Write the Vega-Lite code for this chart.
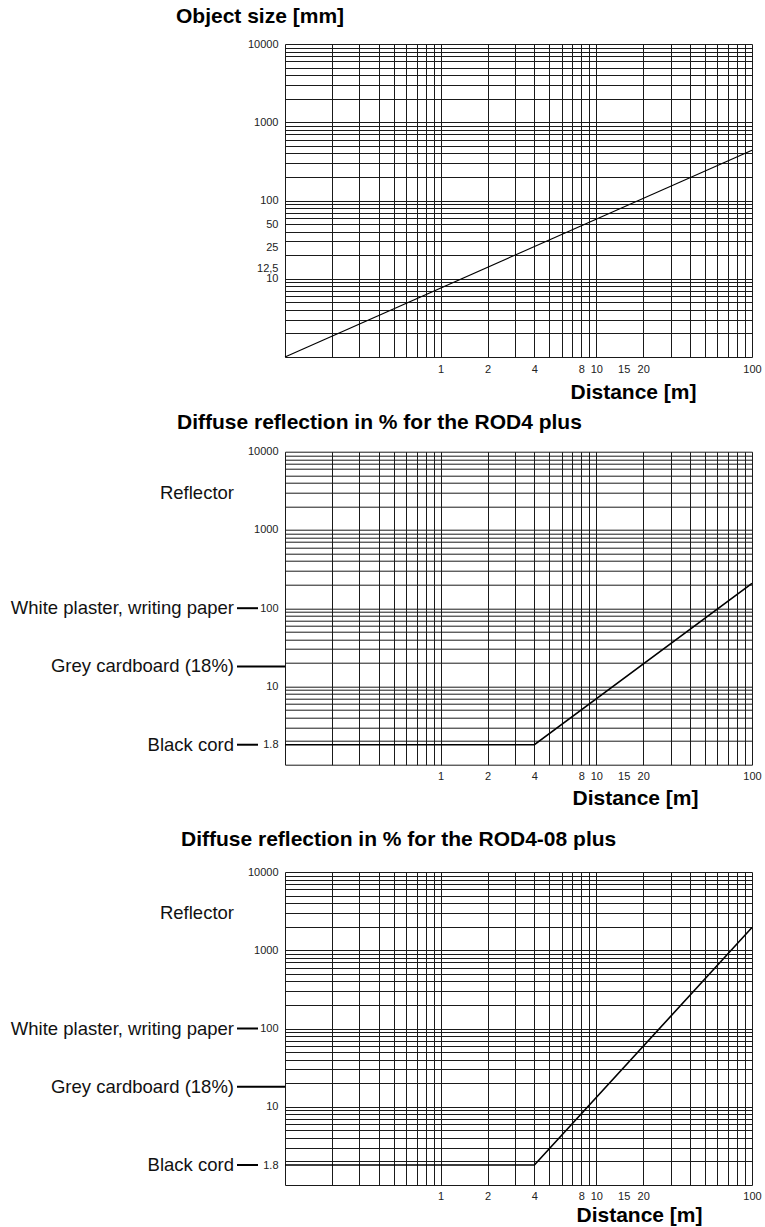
{
  "$schema": "https://vega.github.io/schema/vega-lite/v6.json",
  "padding": {"left": 10, "top": 6, "right": 3, "bottom": 3},
  "config": {"font": "Liberation Sans", "view": {"stroke": null}},
  "datasets": {
    "objectSize": [{"distance": 0.1, "size": 1}, {"distance": 100, "size": 440}],
    "rod4": [{"distance": 0.1, "reflection": 1.8}, {"distance": 4, "reflection": 1.8}, {"distance": 100, "reflection": 208}],
    "rod408": [{"distance": 0.1, "reflection": 1.8}, {"distance": 4, "reflection": 1.8}, {"distance": 100, "reflection": 1950}],
    "materials": [
      {"material": "Reflector", "reflection": 3000},
      {"material": "White plaster, writing paper", "reflection": 100},
      {"material": "Grey cardboard (18%)", "reflection": 18},
      {"material": "Black cord", "reflection": 1.8}
    ]
  },
  "bounds": "flush",
  "spacing": 94.7,
  "vconcat": [
    {
      "width": 467, "height": 313,
      "title": {"text": "Object size [mm]", "anchor": "start", "frame": "group", "dx": -109, "offset": -6, "fontSize": 21, "fontWeight": "bold", "color": "#000", "baseline": "alphabetic"},
      "data": {"name": "objectSize"},
      "mark": {"type": "line", "color": "#000", "strokeWidth": 1.1},
      "encoding": {
        "x": {"field": "distance", "type": "quantitative",
          "scale": {"type": "log", "domain": [0.1, 100], "nice": false},
          "axis": {"values": [0.1,0.2,0.3,0.4,0.5,0.6,0.7,0.8,0.9,1,2,3,4,5,6,7,8,9,10,15,20,30,40,50,60,70,80,90,100],
            "grid": true, "gridColor": "#1a1a1a", "gridWidth": 1,
            "gridOpacity": {"condition": {"test": "datum.value == 15", "value": 0}, "value": 1},
            "ticks": false, "domain": false, "labelFlush": false, "labelOverlap": false,
            "labelExpr": "indexof([1,2,4,8,10,15,20,100], datum.value) >= 0 ? '' + datum.value : ''",
            "labelFontSize": 11, "labelColor": "#222", "labelPadding": 6,
            "title": "Distance [m]", "titleFontSize": 21, "titleFontWeight": "bold", "titleColor": "#000",
            "titleX": 348, "titleY": 41, "titleAlign": "center", "titleBaseline": "alphabetic"}},
        "y": {"field": "size", "type": "quantitative",
          "scale": {"type": "log", "domain": [1, 10000], "nice": false},
          "axis": {"values": [1,2,3,4,5,6,7,8,9,10,12.5,20,25,30,40,50,60,70,80,90,100,200,300,400,500,600,700,800,900,1000,2000,3000,4000,5000,6000,7000,8000,9000,10000],
            "grid": true, "gridColor": "#1a1a1a", "gridWidth": 1,
            "gridOpacity": {"condition": {"test": "datum.value == 12.5 || datum.value == 25", "value": 0}, "value": 1},
            "labelOffset": {"condition": {"test": "datum.value == 12.5", "value": -3}, "value": 0},
            "ticks": false, "domain": false, "labelFlush": false, "labelOverlap": false,
            "labelExpr": "datum.value == 12.5 ? '12,5' : (indexof([10,25,50,100,1000,10000], datum.value) >= 0 ? '' + datum.value : '')",
            "labelFontSize": 11, "labelColor": "#222", "labelPadding": 7, "title": null}}
      }
    },
    {
      "bounds": "flush",
      "spacing": 107.3,
      "vconcat": [
        {
          "width": 467, "height": 313,
          "title": {"text": "Diffuse reflection in % for the ROD4 plus", "anchor": "start", "frame": "group", "dx": -108, "offset": -4, "fontSize": 21, "fontWeight": "bold", "color": "#000", "baseline": "alphabetic"},
          "layer": [
            {
              "data": {"name": "rod4"},
              "mark": {"type": "line", "color": "#000", "strokeWidth": 1.6},
              "encoding": {
                "x": {"field": "distance", "type": "quantitative",
                  "scale": {"type": "log", "domain": [0.1, 100], "nice": false},
                  "axis": {"values": [0.1,0.2,0.3,0.4,0.5,0.6,0.7,0.8,0.9,1,2,3,4,5,6,7,8,9,10,15,20,30,40,50,60,70,80,90,100],
                    "grid": true, "gridColor": "#1a1a1a", "gridWidth": 1,
                    "gridOpacity": {"condition": {"test": "datum.value == 15", "value": 0}, "value": 1},
                    "ticks": false, "domain": false, "labelFlush": false, "labelOverlap": false,
                    "labelExpr": "indexof([1,2,4,8,10,15,20,100], datum.value) >= 0 ? '' + datum.value : ''",
                    "labelFontSize": 11, "labelColor": "#222", "labelPadding": 6,
                    "title": "Distance [m]", "titleFontSize": 21, "titleFontWeight": "bold", "titleColor": "#000",
                    "titleX": 350, "titleY": 40, "titleAlign": "center", "titleBaseline": "alphabetic"}},
                "y": {"field": "reflection", "type": "quantitative",
                  "scale": {"type": "log", "domain": [1, 10000], "nice": false},
                  "axis": {"values": [1,1.8,2,3,4,5,6,7,8,9,10,20,30,40,50,60,70,80,90,100,200,300,400,500,600,700,800,900,1000,2000,3000,4000,5000,6000,7000,8000,9000,10000],
                    "grid": true, "gridColor": "#1a1a1a", "gridWidth": 1,
                    "gridOpacity": {"condition": {"test": "datum.value == 1.8", "value": 0}, "value": 1},
                    "ticks": false, "domain": false, "labelFlush": false, "labelOverlap": false,
                    "labelExpr": "datum.value == 1.8 ? '1.8' : (indexof([10,100,1000,10000], datum.value) >= 0 ? '' + datum.value : '')",
                    "labelFontSize": 11, "labelColor": "#222", "labelPadding": 7, "title": null}}
              }
            },
            {
              "data": {"name": "materials"},
              "mark": {"type": "text", "align": "right", "baseline": "middle", "fontSize": 18.5, "color": "#111"},
              "encoding": {
                "x": {"datum": 0.04703, "type": "quantitative"},
                "y": {"field": "reflection", "type": "quantitative"},
                "text": {"field": "material"}
              }
            },
            {
              "data": {"name": "materials"},
              "transform": [{"filter": "datum.reflection == 100 || datum.reflection == 1.8"}],
              "mark": {"type": "rule", "color": "#000", "strokeWidth": 2},
              "encoding": {
                "x": {"datum": 0.04916, "type": "quantitative"},
                "x2": {"datum": 0.06708},
                "y": {"field": "reflection", "type": "quantitative"}
              }
            },
            {
              "data": {"name": "materials"},
              "transform": [{"filter": "datum.reflection == 18"}],
              "mark": {"type": "rule", "color": "#000", "strokeWidth": 2},
              "encoding": {
                "x": {"datum": 0.04916, "type": "quantitative"},
                "x2": {"datum": 0.1},
                "y": {"field": "reflection", "type": "quantitative"}
              }
            }
          ]
        },
        {
          "width": 467, "height": 313,
          "title": {"text": "Diffuse reflection in % for the ROD4-08 plus", "anchor": "start", "frame": "group", "dx": -104, "offset": -1, "fontSize": 21, "fontWeight": "bold", "color": "#000", "baseline": "alphabetic"},
          "layer": [
            {
              "data": {"name": "rod408"},
              "mark": {"type": "line", "color": "#000", "strokeWidth": 1.6},
              "encoding": {
                "x": {"field": "distance", "type": "quantitative",
                  "scale": {"type": "log", "domain": [0.1, 100], "nice": false},
                  "axis": {"values": [0.1,0.2,0.3,0.4,0.5,0.6,0.7,0.8,0.9,1,2,3,4,5,6,7,8,9,10,15,20,30,40,50,60,70,80,90,100],
                    "grid": true, "gridColor": "#1a1a1a", "gridWidth": 1,
                    "gridOpacity": {"condition": {"test": "datum.value == 15", "value": 0}, "value": 1},
                    "ticks": false, "domain": false, "labelFlush": false, "labelOverlap": false,
                    "labelExpr": "indexof([1,2,4,8,10,15,20,100], datum.value) >= 0 ? '' + datum.value : ''",
                    "labelFontSize": 11, "labelColor": "#222", "labelPadding": 5,
                    "title": "Distance [m]", "titleFontSize": 21, "titleFontWeight": "bold", "titleColor": "#000",
                    "titleX": 354, "titleY": 36, "titleAlign": "center", "titleBaseline": "alphabetic"}},
                "y": {"field": "reflection", "type": "quantitative",
                  "scale": {"type": "log", "domain": [1, 10000], "nice": false},
                  "axis": {"values": [1,1.8,2,3,4,5,6,7,8,9,10,20,30,40,50,60,70,80,90,100,200,300,400,500,600,700,800,900,1000,2000,3000,4000,5000,6000,7000,8000,9000,10000],
                    "grid": true, "gridColor": "#1a1a1a", "gridWidth": 1,
                    "gridOpacity": {"condition": {"test": "datum.value == 1.8", "value": 0}, "value": 1},
                    "ticks": false, "domain": false, "labelFlush": false, "labelOverlap": false,
                    "labelExpr": "datum.value == 1.8 ? '1.8' : (indexof([10,100,1000,10000], datum.value) >= 0 ? '' + datum.value : '')",
                    "labelFontSize": 11, "labelColor": "#222", "labelPadding": 7, "title": null}}
              }
            },
            {
              "data": {"name": "materials"},
              "mark": {"type": "text", "align": "right", "baseline": "middle", "fontSize": 18.5, "color": "#111"},
              "encoding": {
                "x": {"datum": 0.04703, "type": "quantitative"},
                "y": {"field": "reflection", "type": "quantitative"},
                "text": {"field": "material"}
              }
            },
            {
              "data": {"name": "materials"},
              "transform": [{"filter": "datum.reflection == 100 || datum.reflection == 1.8"}],
              "mark": {"type": "rule", "color": "#000", "strokeWidth": 2},
              "encoding": {
                "x": {"datum": 0.04916, "type": "quantitative"},
                "x2": {"datum": 0.06708},
                "y": {"field": "reflection", "type": "quantitative"}
              }
            },
            {
              "data": {"name": "materials"},
              "transform": [{"filter": "datum.reflection == 18"}],
              "mark": {"type": "rule", "color": "#000", "strokeWidth": 2},
              "encoding": {
                "x": {"datum": 0.04916, "type": "quantitative"},
                "x2": {"datum": 0.1},
                "y": {"field": "reflection", "type": "quantitative"}
              }
            }
          ]
        }
      ]
    }
  ]
}
